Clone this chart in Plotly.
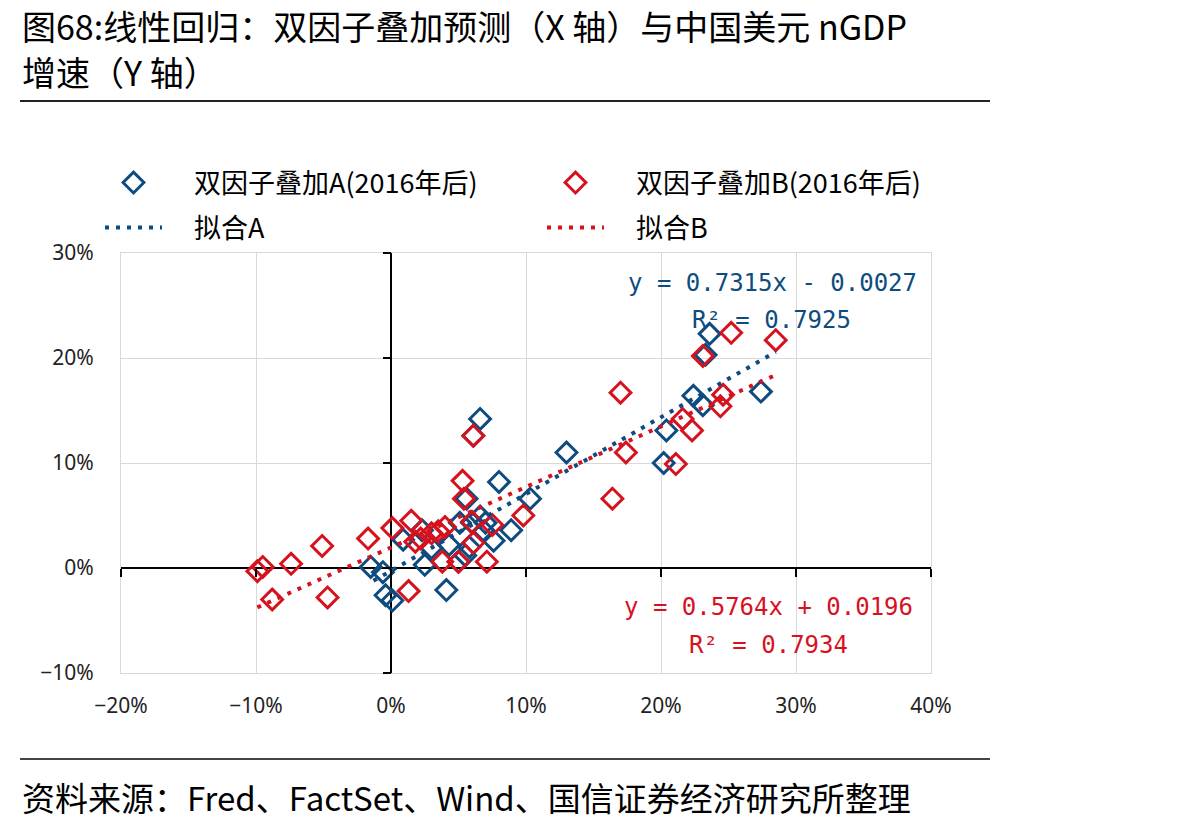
import plotly.graph_objects as go

# ---------------- data (percent units) ----------------
a_x = [-1.5, -0.6, -0.4, 0.1, 0.9, 2.3, 2.5, 3.0, 4.1, 4.3, 5.0, 5.1, 5.5, 5.6, 6.1, 6.6,
       5.8, 6.0, 6.6, 7.0, 7.6, 8.0, 8.9, 10.3, 13.0, 20.2, 20.4, 22.4, 23.1, 23.3, 23.6, 27.4, 6.9]
a_y = [0.1, -0.4, -2.6, -3.1, 2.7, 3.6, 0.3, 1.9, -2.1, 2.2, 0.6, 4.3, 1.2, 6.6, 12.6, 14.2,
       2.0, 4.3, 4.9, 4.3, 2.6, 8.2, 3.6, 6.6, 11.0, 10.0, 13.1, 16.4, 15.5, 20.3, 22.3, 16.8, 3.5]

b_x = [-9.9, -9.5, -8.8, -7.4, -5.1, -4.7, -1.7, 0.1, 1.3, 1.5, 1.8, 2.2, 3.0, 3.5, 4.0, 3.8,
       5.0, 5.3, 5.4, 6.1, 6.0, 6.1, 7.1, 7.5, 9.8, 16.4, 17.0, 17.4, 21.1, 21.6, 22.3, 23.1,
       24.4, 24.6, 25.2, 28.5]
b_y = [-0.3, 0.1, -3.0, 0.4, 2.1, -2.8, 2.8, 3.8, -2.2, 4.5, 2.5, 2.8, 3.3, 3.5, 3.9, 0.6,
       0.6, 8.3, 6.6, 12.6, 4.4, 2.4, 0.6, 4.1, 5.0, 6.6, 16.7, 11.0, 9.9, 14.2, 13.1, 20.2,
       15.4, 16.5, 22.4, 21.7]

# trendline coefficients shown on the chart, and the x extent of each trendline
fit_a = {"slope": 0.7315, "intercept": -0.0027, "x_range": [-0.013, 0.285]}
fit_b = {"slope": 0.5764, "intercept": 0.0196, "x_range": [-0.099, 0.285]}

x_ticks = [-0.2, -0.1, 0.0, 0.1, 0.2, 0.3, 0.4]
y_ticks = [-0.1, 0.0, 0.1, 0.2, 0.3]

names = ["双因子叠加A(2016年后)", "双因子叠加B(2016年后)", "拟合A", "拟合B"]
title_lines = ["图68:线性回归：双因子叠加预测（X 轴）与中国美元 nGDP", "增速（Y 轴）"]
source_lines = ["资料来源：Fred、FactSet、Wind、国信证券经济研究所整理", "注："]
eq_a = ["y = 0.7315x - 0.0027", "R² = 0.7925"]
eq_b = ["y = 0.5764x + 0.0196", "R² = 0.7934"]

BLUE = "#0E4C80"
RED = "#D7121F"
CJK = "Noto Sans CJK SC"

W, H = 1204, 827
L, R, T, B = 121, 931, 253, 673


def px(xp):
    return (xp - L) / (R - L)


def py(yp):
    return (B - yp) / (B - T)


def fit_line(f):
    xs = list(f["x_range"])
    ys = [f["slope"] * v + f["intercept"] for v in xs]
    return xs, ys


PAD = "\u3000"  # gap between legend symbol and its text

fig = go.Figure()
fig.add_trace(go.Scatter(
    x=[v / 100 for v in a_x], y=[v / 100 for v in a_y], mode="markers", name=PAD + names[0],
    marker=dict(symbol="diamond-open", size=16, color=BLUE, line=dict(width=3, color=BLUE)),
    legend="legend"))
fig.add_trace(go.Scatter(
    x=[v / 100 for v in b_x], y=[v / 100 for v in b_y], mode="markers", name=PAD + names[1],
    marker=dict(symbol="diamond-open", size=16, color=RED, line=dict(width=3, color=RED)),
    legend="legend"))
fxa, fya = fit_line(fit_a)
fxb, fyb = fit_line(fit_b)
fig.add_trace(go.Scatter(x=fxa, y=fya, mode="lines", name=PAD + names[2],
                         line=dict(color=BLUE, width=4, dash="4px,7px"), legend="legend2"))
fig.add_trace(go.Scatter(x=fxb, y=fyb, mode="lines", name=PAD + names[3],
                         line=dict(color=RED, width=4, dash="4px,7px"), legend="legend2"))

tickfont = dict(family="Noto Sans", size=21, color="#222")

fig.update_layout(
    width=W, height=H,
    margin=dict(l=L, r=W - R, t=T, b=H - B, pad=0),
    paper_bgcolor="white", plot_bgcolor="white",
    font=dict(family=CJK, color="#000"),
    xaxis=dict(range=[-0.2, 0.4], tickvals=x_ticks, tickformat=".0%", showgrid=True,
               gridcolor="#D9D9D9", gridwidth=1, zeroline=True, zerolinecolor="#000",
               zerolinewidth=2, showline=True, linecolor="#D9D9D9", mirror=True,
               tickfont=tickfont, ticks="", ticklabelstandoff=14, fixedrange=True),
    yaxis=dict(range=[-0.1, 0.3], tickvals=y_ticks, tickformat=".0%", showgrid=True,
               gridcolor="#D9D9D9", gridwidth=1, zeroline=True, zerolinecolor="#000",
               zerolinewidth=2, showline=True, linecolor="#D9D9D9", mirror=True,
               tickfont=tickfont, ticks="", ticklabelstandoff=22, fixedrange=True),
    xaxis2=dict(range=[-0.2, 0.4], tickvals=x_ticks, overlaying="x", anchor="free",
                position=0.25, ticks="outside", ticklen=8, tickwidth=2, tickcolor="#000",
                showticklabels=False, showgrid=False, zeroline=False, showline=False),
    yaxis2=dict(range=[-0.1, 0.3], tickvals=y_ticks, overlaying="y", anchor="free",
                position=1 / 3, ticks="outside", ticklen=8, tickwidth=2, tickcolor="#000",
                showticklabels=False, showgrid=False, zeroline=False, showline=False),
    legend=dict(orientation="h", x=px(100), xanchor="left", y=py(183), yanchor="middle",
                font=dict(family=CJK, size=27, color="#000"), entrywidth=370,
                itemwidth=57, bgcolor="rgba(0,0,0,0)"),
    legend2=dict(orientation="h", x=px(100), xanchor="left", y=py(228), yanchor="middle",
                 font=dict(family=CJK, size=27, color="#000"), entrywidth=370,
                 itemwidth=57, bgcolor="rgba(0,0,0,0)"),
    showlegend=True,
)

# invisible helper trace so the crossing-axis tick marks are drawn
fig.add_trace(go.Scatter(x=[0], y=[0], xaxis="x2", yaxis="y2", mode="markers",
                         marker=dict(opacity=0), showlegend=False, hoverinfo="skip"))

ann = []
for i, t in enumerate(title_lines):
    ann.append(dict(text=t, x=px(20), y=py(26 + 45 * i), xref="paper", yref="paper",
                    xanchor="left", yanchor="middle", showarrow=False,
                    font=dict(family=CJK, size=34, color="#000")))
for i, t in enumerate(source_lines):
    ann.append(dict(text=t, x=px(20), y=py(797 + 46 * i), xref="paper", yref="paper",
                    xanchor="left", yanchor="middle", showarrow=False,
                    font=dict(family=CJK, size=33, color="#000")))
mono = "DejaVu Sans Mono"
ann.append(dict(text=eq_a[0], x=px(772), y=py(283), xref="paper", yref="paper",
                xanchor="center", yanchor="middle", showarrow=False,
                font=dict(family=mono, size=24, color=BLUE)))
ann.append(dict(text=eq_a[1], x=px(771), y=py(320), xref="paper", yref="paper",
                xanchor="center", yanchor="middle", showarrow=False,
                font=dict(family=mono, size=24, color=BLUE)))
ann.append(dict(text=eq_b[0], x=px(768), y=py(607), xref="paper", yref="paper",
                xanchor="center", yanchor="middle", showarrow=False,
                font=dict(family=mono, size=24, color=RED)))
ann.append(dict(text=eq_b[1], x=px(768), y=py(645), xref="paper", yref="paper",
                xanchor="center", yanchor="middle", showarrow=False,
                font=dict(family=mono, size=24, color=RED)))
fig.update_layout(annotations=ann)

fig.add_shape(type="line", xref="paper", yref="paper", x0=px(20), x1=px(990),
              y0=py(101), y1=py(101), line=dict(color="#222", width=2))
fig.add_shape(type="line", xref="paper", yref="paper", x0=px(20), x1=px(990),
              y0=py(759), y1=py(759), line=dict(color="#444", width=2))

fig.write_html("out.html")
